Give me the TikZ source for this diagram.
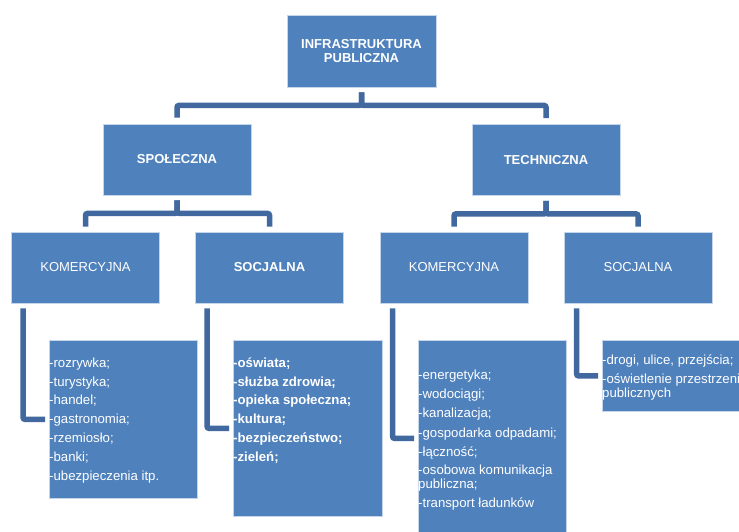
\documentclass[tikz,border=0pt]{standalone}
\usepackage{fontspec}
\setmainfont{Liberation Sans}
\definecolor{boxblue}{HTML}{4F81BD}
\definecolor{boxedge}{HTML}{C6D6EA}
\definecolor{connblue}{HTML}{41699F}
\begin{document}
\begin{tikzpicture}[x=1pt,y=-1pt,
  box/.style={draw=boxedge, fill=boxblue, line width=0.8pt, inner sep=0pt,
    minimum width=148pt, minimum height=71pt, text=white, align=center,
    font=\fontsize{13}{13.5}\selectfont},
  leaf/.style={draw=boxedge, fill=boxblue, line width=0.8pt, inner sep=0pt},
  items/.style={anchor=north west, inner sep=0pt, text=white, align=left,
    font=\fontsize{13.2}{13.5}\selectfont},
  conn/.style={draw=connblue, line width=5.5pt, rounded corners=2pt}]
\useasboundingbox (0,0) rectangle (739,531);
\clip (0,0) rectangle (739,531);
\fill[white] (0,0) rectangle (739,531);

% hierarchy boxes
\node[box, minimum width=149pt, minimum height=72pt, font=\bfseries\fontsize{13}{13.5}\selectfont] (root) at (361.5,51) {INFRASTRUKTURA\\PUBLICZNA};
\node[box, font=\bfseries\fontsize{13}{13.5}\selectfont] (spol) at (177,159.5) {SPOŁECZNA};
\node[box, font=\bfseries\fontsize{13}{13.5}\selectfont] (tech) at (546,160) {TECHNICZNA};
\node[box] (k1) at (85.5,267.5) {KOMERCYJNA};
\node[box, font=\bfseries\fontsize{13}{13.5}\selectfont] (s1) at (269.5,267.5) {SOCJALNA};
\node[box] (k2) at (454,267.5) {KOMERCYJNA};
\node[box] (s2) at (638,267.5) {SOCJALNA};

% list boxes
\node[leaf, minimum width=148pt, minimum height=158pt, anchor=north west] (l1) at (49,340) {};
\node[leaf, minimum width=149pt, minimum height=176pt, anchor=north west] (l2) at (233,340) {};
\node[leaf, minimum width=148pt, minimum height=196pt, anchor=north west] (l3) at (418,340) {};
\node[leaf, minimum width=148pt, minimum height=71pt, anchor=north west] (l4) at (602,340) {};

% list texts
\node[items] (t1) at (49,357.5) {-rozrywka;\\[5.3pt]-turystyka;\\[5.3pt]-handel;\\[5.3pt]-gastronomia;\\[5.3pt]-rzemiosło;\\[5.3pt]-banki;\\[5.3pt]-ubezpieczenia itp.};
\node[items, font=\bfseries\fontsize{13.2}{13.5}\selectfont] (t2) at (233,357.5) {-oświata;\\[5.3pt]-służba zdrowia;\\[5.3pt]-opieka społeczna;\\[5.3pt]-kultura;\\[5.3pt]-bezpieczeństwo;\\[5.3pt]-zieleń;};
\node[items] (t3) at (418,369.5) {-energetyka;\\[5.8pt]-wodociągi;\\[5.8pt]-kanalizacja;\\[5.8pt]-gospodarka odpadami;\\[5.8pt]-łączność;\\[5pt]-osobowa komunikacja\\publiczna;\\[5.8pt]-transport ładunków};
\node[items] (t4) at (602,354.5) {-drogi, ulice, przejścia;\\[6pt]-oświetlenie przestrzeni\\publicznych};

% tree connectors
\draw[conn] ([yshift=-5pt]root.south) -- ++(0,13) -| ([yshift=6pt]spol.north);
\draw[conn] ([yshift=-5pt]root.south) -- ++(0,13) -| ([yshift=6pt]tech.north);
\draw[conn] ([yshift=-5pt]spol.south) -- ++(0,13) -| ([yshift=5pt]k1.north);
\draw[conn] ([yshift=-5pt]spol.south) -- ++(0,13) -| ([yshift=5pt]s1.north);
\draw[conn] ([yshift=-5pt]tech.south) -- ++(0,13) -| ([yshift=5pt]k2.north);
\draw[conn] ([yshift=-5pt]tech.south) -- ++(0,13) -| ([yshift=5pt]s2.north);

% elbow connectors to the lists
\draw[conn] ([shift={(12,5)}]k1.south west) |- ([xshift=-4pt]l1.west);
\draw[conn] ([shift={(12,5)}]s1.south west) |- ([xshift=-4pt]l2.west);
\draw[conn] ([shift={(13,5)}]k2.south west) |- ([xshift=-4pt]l3.west);
\draw[conn] ([shift={(13,5)}]s2.south west) |- ([xshift=-4pt]l4.west);
\end{tikzpicture}
\end{document}
